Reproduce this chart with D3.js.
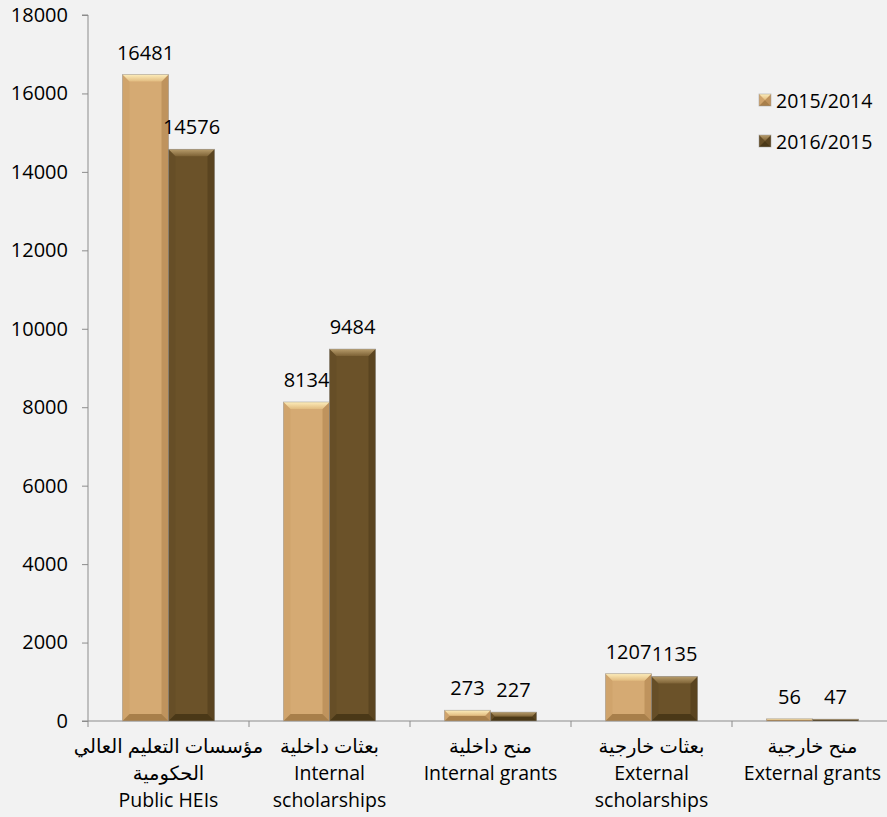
<!DOCTYPE html>
<html>
<head>
<meta charset="utf-8">
<script src="https://cdn.jsdelivr.net/npm/d3@7"></script>
<style>
  html, body { margin: 0; padding: 0; background: #f2f2f2; }
  svg { display: block; }
  text { font-family: "Open Sans", "DejaVu Sans", sans-serif; fill: #000; }
</style>
</head>
<body>
<script>
const categoriesAr = ["مؤسسات التعليم العالي", "بعثات داخلية", "منح داخلية", "بعثات خارجية", "منح خارجية"];
const categoriesArLine2 = ["الحكومية", "", "", "", ""];
const categoriesEn = [["Public HEIs"], ["Internal", "scholarships"], ["Internal grants"], ["External", "scholarships"], ["External grants"]];
const seriesNames = ["2015/2014", "2016/2015"];
const values2015 = [16481, 8134, 273, 1207, 56];
const values2016 = [14576, 9484, 227, 1135, 47];
const yTicks = [0, 2000, 4000, 6000, 8000, 10000, 12000, 14000, 16000, 18000];

const W = 887, H = 817;
const margin = { left: 88, top: 15, bottom: 96, right: -6 };
const svg = d3.select("body").append("svg").attr("width", W).attr("height", H);
svg.append("rect").attr("width", W).attr("height", H).attr("fill", "#f2f2f2");

const x0 = d3.scaleBand().domain(d3.range(categoriesAr.length)).range([margin.left, W - margin.right]).padding(0);
const x1 = d3.scaleBand().domain(d3.range(seriesNames.length)).range([0, x0.bandwidth()]).paddingInner(0).paddingOuter(0.75);
const y = d3.scaleLinear().domain([0, 18000]).range([H - margin.bottom, margin.top]);

const palettes = [
  { face: "#d5aa73", top0: "#fdedbb", top1: "#e2bc80", left: "#d0a46c", right: "#bf935d", bottom: "#a87f4a" },
  { face: "#6b5229", top0: "#b89d6c", top1: "#7d6236", left: "#664e27", right: "#5a4420", bottom: "#4a3817" }
];

const defs = svg.append("defs");
palettes.forEach((p, i) => {
  const g = defs.append("linearGradient").attr("id", "topg" + i).attr("x1", 0).attr("y1", 0).attr("x2", 0).attr("y2", 1);
  g.append("stop").attr("offset", "0%").attr("stop-color", p.top0);
  g.append("stop").attr("offset", "100%").attr("stop-color", p.top1);
});

// axes
const yAxis = d3.axisLeft(y).tickValues(yTicks).tickSize(6).tickPadding(14).tickFormat(d3.format("d"));
const gy = svg.append("g").attr("transform", `translate(${margin.left},0)`).call(yAxis);
gy.select(".domain").attr("stroke", "#8c8c8c").attr("d", `M-6,${y(0)}H0V${y(18000)}H-6`);
gy.selectAll(".tick line").attr("stroke", "#8c8c8c");
gy.selectAll(".tick text").style("font-size", "20px").style("font-family", "'Open Sans', sans-serif").attr("fill", "#000");

const xTickScale = d3.scaleLinear().domain([0, categoriesAr.length]).range(x0.range());
const gx = svg.append("g").attr("transform", `translate(0,${y(0)})`);
gx.append("line").attr("x1", margin.left).attr("x2", W).attr("stroke", "#8c8c8c");
gx.selectAll("line.tk").data(d3.range(categoriesAr.length + 1)).enter().append("line")
  .attr("class", "tk").attr("x1", d => xTickScale(d)).attr("x2", d => xTickScale(d)).attr("y1", 0).attr("y2", 6)
  .attr("stroke", "#8c8c8c");

// bars
function bevelBar(g, x, yTop, w, h, p, i) {
  const b = Math.min(7, h / 2, w / 2);
  const yb = yTop + h;
  g.append("rect").attr("x", x).attr("y", yTop).attr("width", w).attr("height", h).attr("fill", p.face);
  const poly = (pts, fill) => g.append("polygon").attr("points", pts.map(q => q.join(",")).join(" ")).attr("fill", fill);
  poly([[x, yTop], [x + b, yTop + b], [x + b, yb - b], [x, yb]], p.left);
  poly([[x + w, yTop], [x + w - b, yTop + b], [x + w - b, yb - b], [x + w, yb]], p.right);
  poly([[x, yb], [x + b, yb - b], [x + w - b, yb - b], [x + w, yb]], p.bottom);
  poly([[x, yTop], [x + w, yTop], [x + w - b, yTop + b], [x + b, yTop + b]], `url(#topg${i})`);
  g.append("rect").attr("x", x).attr("y", yTop).attr("width", w).attr("height", h)
    .attr("fill", "none").attr("stroke", "#9a9a9a").attr("stroke-opacity", 0.6).attr("stroke-width", 0.8);
}

const seriesValues = [values2015, values2016];
const barsG = svg.append("g");
categoriesAr.forEach((c, ci) => {
  seriesValues.forEach((vals, si) => {
    const v = vals[ci];
    const bx = x0(ci) + x1(si);
    const bw = x1.bandwidth();
    const top = y(v);
    const h = y(0) - top;
    bevelBar(barsG.append("g"), bx, top, bw, Math.max(h, 1.5), palettes[si], si);
    svg.append("text").attr("x", bx + bw / 2).attr("y", top - 15).attr("text-anchor", "middle")
      .style("font-size", "20px").text(v);
  });
});

// category labels
categoriesAr.forEach((c, ci) => {
  const cx = x0(ci) + x0.bandwidth() / 2;
  const lines = [c];
  if (categoriesArLine2[ci]) lines.push(categoriesArLine2[ci]);
  categoriesEn[ci].forEach(l => lines.push(l));
  lines.forEach((l, li) => {
    svg.append("text").attr("x", cx).attr("y", 753 + li * 27).attr("text-anchor", "middle")
      .style("font-size", "19.5px").text(l);
  });
});

// legend
const leg = svg.append("g");
seriesNames.forEach((s, i) => {
  const ly = 94 + i * 41;
  const p = palettes[i];
  const g = leg.append("g");
  bevelBar(g, 759, ly, 12, 12, p, i);
  leg.append("text").attr("x", 776).attr("y", ly + 6).attr("dominant-baseline", "central")
    .style("font-size", "19.5px").text(s);
});
</script>
</body>
</html>
